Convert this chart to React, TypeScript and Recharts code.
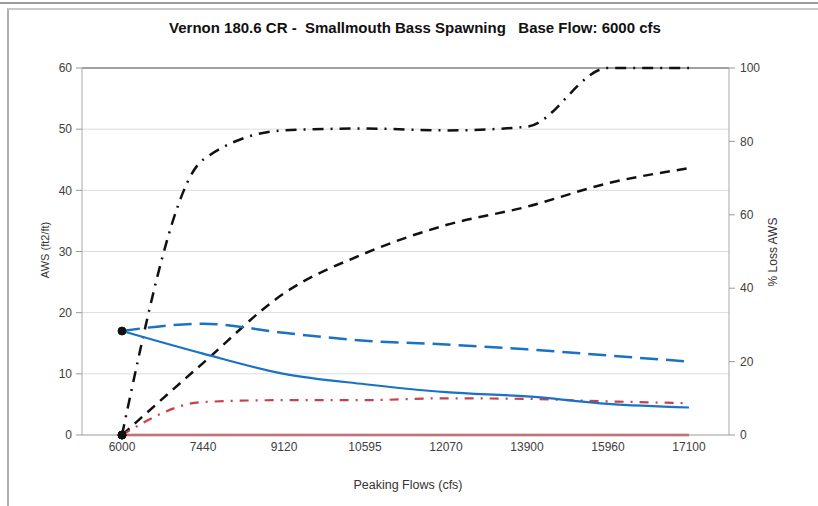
import React from "react";
import {
  LineChart,
  Line,
  XAxis,
  YAxis,
  CartesianGrid,
  ReferenceLine,
} from "recharts";

// peaking flows (cfs) on the category axis
const flows = ["6000", "7440", "9120", "10595", "12070", "13900", "15960", "17100"];

// AWS (ft2/ft), left axis
const awsSolidBlue = [17, 13.3, 10, 8.3, 7, 6.3, 5.1, 4.5];
const awsDashedBlue = [17, 18.2, 16.7, 15.4, 14.8, 14.0, 13.0, 12.0];
const awsSolidRed = [0, 0, 0, 0, 0, 0, 0, 0];
const awsDashDotRed = [0, 5.4, 5.7, 5.7, 6.0, 5.9, 5.5, 5.2];

// % loss AWS, right axis
const lossDashDot = [0, 75, 83, 83.5, 83, 84, 100, 100];
const lossDashed = [0, 19.6, 38.6, 49.5, 57.2, 62.2, 68.6, 72.7];

const leftTicks = [0, 10, 20, 30, 40, 50, 60];
const rightTicks = [0, 20, 40, 60, 80, 100];

const data = flows.map((f, i) => ({
  flow: f,
  blue: awsSolidBlue[i],
  blueDash: awsDashedBlue[i],
  red: awsSolidRed[i],
  redDash: awsDashDotRed[i],
  lossDD: lossDashDot[i],
  lossD: lossDashed[i],
}));

const FONT = '"Liberation Sans", Arial, sans-serif';
const TICK = { fill: "#404040", fontSize: 12, fontFamily: FONT };

// only the first point gets a black marker
const firstDot = (props: any) => {
  const { cx, cy, index } = props;
  if (index !== 0) return <g key={`d${index}`} />;
  return <circle key={`d${index}`} cx={cx} cy={cy} r={4} fill="#111" stroke="#111" />;
};

export default function App() {
  return (
    <div
      style={{
        position: "absolute",
        left: 0,
        top: 0,
        width: 818,
        height: 506,
        background: "#fff",
        fontFamily: FONT,
      }}
    >
      <div style={{ position: "absolute", left: 0, top: 2, width: 818, height: 2, background: "#9a9a9a" }} />
      <div
        style={{
          position: "absolute",
          left: 7,
          top: 8,
          width: 811,
          height: 498,
          borderLeft: "2px solid #b0b0b0",
          borderTop: "2px solid #c8c8c8",
          boxSizing: "border-box",
        }}
      />
      <div
        style={{
          position: "absolute",
          left: 0,
          width: 818,
          top: 19,
          textAlign: "center",
          fontWeight: "bold",
          fontSize: 15,
          color: "#111",
          paddingLeft: 12,
          boxSizing: "border-box",
          whiteSpace: "pre",
        }}
      >
        {"Vernon 180.6 CR -  Smallmouth Bass Spawning   Base Flow: 6000 cfs"}
      </div>
      <LineChart
        width={818}
        height={506}
        data={data}
        margin={{ top: 68, right: 0, bottom: 41, left: 0 }}
        style={{ position: "absolute", left: 0, top: 0 }}
      >
        <CartesianGrid yAxisId="left" vertical={false} stroke="#dcdcdc" />
        <XAxis
          dataKey="flow"
          padding={{ left: 40, right: 40 }}
          tick={TICK}
          tickLine={false}
          tickSize={0}
          tickMargin={7}
          axisLine={{ stroke: "#aaa" }}
          height={30}
          interval={0}
        />
        <YAxis
          yAxisId="left"
          width={82}
          domain={[0, 60]}
          ticks={leftTicks}
          tick={TICK}
          tickLine={{ stroke: "#999" }}
          axisLine={{ stroke: "#aaa" }}
          tickSize={6}
          tickMargin={4}
        />
        <YAxis
          yAxisId="right"
          orientation="right"
          width={89}
          domain={[0, 100]}
          ticks={rightTicks}
          tick={TICK}
          tickLine={{ stroke: "#999" }}
          axisLine={{ stroke: "#aaa" }}
          tickSize={6}
          tickMargin={5}
        />
        <ReferenceLine yAxisId="left" y={60} stroke="#888" strokeWidth={1.5} />
        <Line
          yAxisId="right"
          type="monotone"
          dataKey="lossDD"
          stroke="#111"
          strokeWidth={2.5}
          strokeDasharray="11 7 2 7"
          dot={firstDot}
          isAnimationActive={false}
        />
        <Line
          yAxisId="right"
          type="monotone"
          dataKey="lossD"
          stroke="#111"
          strokeWidth={2.5}
          strokeDasharray="10 7"
          dot={firstDot}
          isAnimationActive={false}
        />
        <Line
          yAxisId="left"
          type="monotone"
          dataKey="blueDash"
          stroke="#1a72c4"
          strokeWidth={2.5}
          strokeDasharray="18 8"
          dot={false}
          isAnimationActive={false}
        />
        <Line
          yAxisId="left"
          type="monotone"
          dataKey="redDash"
          stroke="#c8404a"
          strokeWidth={2.2}
          strokeDasharray="9 7 2 7"
          dot={false}
          isAnimationActive={false}
        />
        <Line
          yAxisId="left"
          type="monotone"
          dataKey="blue"
          stroke="#1a72c4"
          strokeWidth={2.2}
          dot={firstDot}
          isAnimationActive={false}
        />
        <Line
          yAxisId="left"
          type="monotone"
          dataKey="red"
          stroke="#c8404a"
          strokeWidth={2.5}
          dot={firstDot}
          isAnimationActive={false}
        />
      </LineChart>
      <div
        style={{
          position: "absolute",
          left: 45,
          top: 250,
          transform: "translate(-50%, -50%) rotate(-90deg)",
          fontSize: 11,
          color: "#333",
          whiteSpace: "nowrap",
        }}
      >
        AWS (ft2/ft)
      </div>
      <div
        style={{
          position: "absolute",
          left: 773,
          top: 252,
          transform: "translate(-50%, -50%) rotate(-90deg)",
          fontSize: 12,
          color: "#333",
          whiteSpace: "nowrap",
        }}
      >
        % Loss AWS
      </div>
      <div
        style={{
          position: "absolute",
          left: 408,
          top: 485,
          transform: "translate(-50%, -50%)",
          fontSize: 12.5,
          color: "#333",
          whiteSpace: "nowrap",
        }}
      >
        Peaking Flows (cfs)
      </div>
    </div>
  );
}
